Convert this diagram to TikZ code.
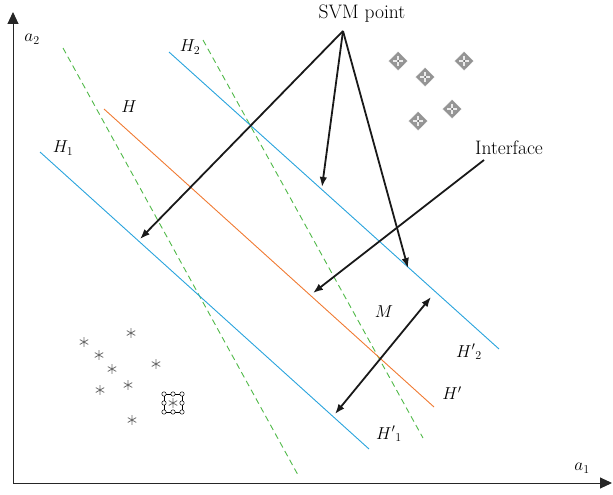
\documentclass[tikz,border=0pt]{standalone}
\usetikzlibrary{arrows.meta}
\definecolor{hblue}{RGB}{41,163,221}
\definecolor{horange}{RGB}{240,122,50}
\definecolor{hgreen}{RGB}{80,185,72}
\definecolor{astgray}{RGB}{105,105,105}
\definecolor{diamgray}{RGB}{150,150,150}
\begin{document}
\begin{tikzpicture}[x=1pt,y=-1pt,
  font=\fontsize{17}{20}\selectfont,
  txt/.style={inner sep=0pt,font=\fontsize{19.5}{22}\selectfont},
  axisline/.style={line width=1pt,draw=black!85,-{Triangle[length=12pt,width=11pt]}},
  bline/.style={hblue,line width=0.9pt},
  oline/.style={horange,line width=0.9pt},
  gline/.style={hgreen,line width=0.9pt,dash pattern=on 6pt off 4pt},
  pointer/.style={line width=1.8pt,black!90,-{Latex[length=10pt,width=7.5pt]}},
  dpointer/.style={line width=1.8pt,black!90,{Latex[length=10pt,width=7.5pt]}-{Latex[length=10pt,width=7.5pt]}},
  lab/.style={inner sep=0pt},
  ast/.pic={\draw[astgray,line width=0.8pt] (0,-4.8)--(0,4.8) (-4.2,-2.4)--(4.2,2.4) (-4.2,2.4)--(4.2,-2.4);},
  diam/.pic={\fill[diamgray] (0,-9)--(9,0)--(0,9)--(-9,0)--cycle;
             \draw[gray!60!black,line width=0.4pt,densely dotted] (0,-9)--(9,0)--(0,9)--(-9,0)--cycle;
             \draw[gray!15,line width=2pt] (-5,0)--(5,0) (0,-5)--(0,5);
             \fill[gray!60!black] (0,0) circle (1pt);}
]
\useasboundingbox (0,0) rectangle (613,495);
% axes
\coordinate (O) at (13,483);
\coordinate (ytop) at (13,12);
\coordinate (xend) at (612,483);
\draw[axisline] (O) -- (ytop);
\draw[axisline] (O) -- (xend);
\node[lab] (a2) at (32,39) {$a_2$};
\node[lab] (a1) at (582,468) {$a_1$};
% lines
\coordinate (h1s) at (40,152);  \coordinate (h1e) at (369,449);
\coordinate (hs) at (104,109);  \coordinate (he) at (434,407);
\coordinate (h2s) at (169,52);  \coordinate (h2e) at (499,349);
\coordinate (g1s) at (63,48);   \coordinate (g1e) at (298,475);
\coordinate (g2s) at (203,40);  \coordinate (g2e) at (423,438);
\draw[gline] (g1s) -- (g1e);
\draw[gline] (g2s) -- (g2e);
\draw[bline] (h1s) -- (h1e);
\draw[bline] (h2s) -- (h2e);
\draw[oline] (hs) -- (he);
% line labels
\node[lab] (lH2) at (190,47) {$H_2$};
\node[lab] (lH) at (129,107) {$H$};
\node[lab] (lH1) at (63,148) {$H_1$};
\node[lab] (lH2p) at (469,352) {$H'{}_2$};
\node[lab] (lHp) at (452,393) {$H'$};
\node[lab] (lH1p) at (389,434) {$H'{}_1$};
\node[lab] (lM) at (384,312) {$M$};
% SVM point arrows
\node[txt] (svm) at (362,14) {SVM point};
\coordinate (apex) at (343,31);
\coordinate (t1) at (140,239);
\coordinate (t2) at (322,187);
\coordinate (t3) at (408,268);
\draw[pointer] (apex) -- (t1);
\draw[pointer] (apex) -- (t2);
\draw[pointer] (apex) -- (t3);
% interface
\node[txt] (iface) at (509,148) {Interface};
\coordinate (is) at (484,160);
\coordinate (it) at (313,293);
\draw[pointer] (is) -- (it);
% margin arrow
\coordinate (m1) at (335,414);
\coordinate (m2) at (431,297);
\draw[dpointer] (m1) -- (m2);
% diamonds
\foreach \p in {(398,61),(425,77),(464,61),(452,109),(418,121)}
  \pic at \p {diam};
% asterisks
\foreach \p in {(84,342),(131,333),(99,355),(112,369),(156,364),(100,390),(128,385),(132,420)}
  \pic at \p {ast};
% boxed asterisk
\draw[black,line width=0.6pt] (164,394) rectangle (182,412);
\foreach \p in {(164,394),(173,394),(182,394),(164,403),(182,403),(164,412),(173,412),(182,412)}
  \filldraw[fill=white,draw=black,line width=0.5pt] \p circle (2.2pt);
\pic at (173,403) {ast};
\end{tikzpicture}
\end{document}
